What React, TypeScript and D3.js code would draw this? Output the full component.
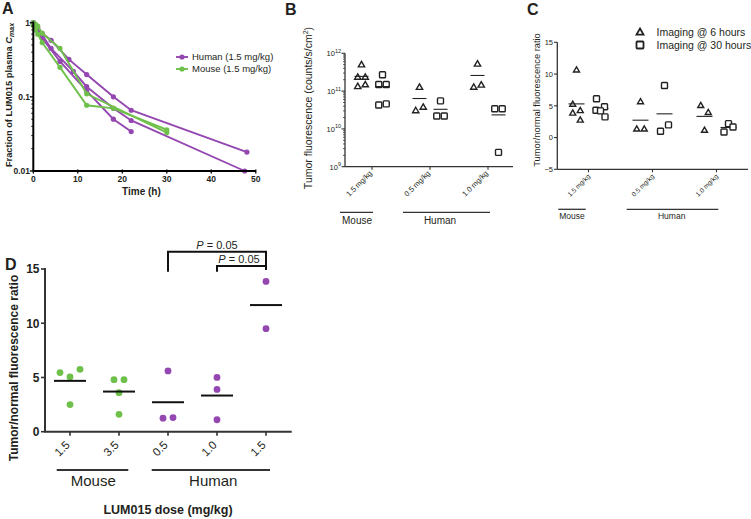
import React from "react";
import * as d3 from "d3";

const FONT = "Arial, 'Liberation Sans', Helvetica, sans-serif";
const PURPLE = "#9447b1";
const GREEN = "#6fc04b";
const INK = "#231f20";
const GREY = "#333333";

// ---------- Panel A : plasma PK ----------
const pkTicksX = [0, 10, 20, 30, 40, 50];
const pkTicksY = [1, 0.1, 0.01];
const pkTickLabelsY = ["1", "0.1", "0.01"];
const humanPK1: number[][] = [[0, 1], [1, 0.85], [2, 0.72], [4, 0.58], [8, 0.32], [12, 0.2], [18, 0.1], [22, 0.066], [48, 0.018]];
const humanPK2: number[][] = [[0, 1], [1, 0.8], [2, 0.68], [4, 0.45], [9, 0.22], [12, 0.137], [18, 0.07], [22, 0.048], [47.5, 0.01]];
const humanPK3: number[][] = [[0, 0.95], [1, 0.78], [2, 0.62], [6, 0.3], [12, 0.12], [18, 0.05], [22, 0.034]];
const mousePK1: number[][] = [[0, 1], [0.5, 0.95], [1, 0.9], [2, 0.72], [6, 0.45], [12, 0.11], [30, 0.033]];
const mousePK2: number[][] = [[0, 0.92], [0.5, 0.8], [1, 0.7], [2, 0.54], [6, 0.25], [12, 0.077], [18, 0.07], [30, 0.036]];
const humanPK = [humanPK1, humanPK2, humanPK3];
const mousePK = [mousePK1, mousePK2];

// ---------- Panel B : tumor fluorescence ----------
const bCategories = ["1.5 mg/kg", "0.5 mg/kg", "1.0 mg/kg"];
const b6h: number[][] = [
  [4.9e11, 2.3e11, 2.3e11, 1.3e11, 1.45e11],
  [1.24e11, 3.0e10, 3.7e10],
  [5.1e11, 1.25e11, 1.42e11],
];
const b30h: number[][] = [
  [2.7e11, 1.5e11, 1.5e11, 4.3e10, 4.6e10],
  [5.5e10, 2.2e10, 2.2e10],
  [3.4e10, 3.4e10, 2.4e9],
];
const bTicks = [1e12, 1e11, 1e10, 1e9];
const bTickExp = ["12", "11", "10", "9"];

// ---------- Panel C : tumor/normal ratio by imaging time ----------
const cCategories = ["1.5 mg/kg", "0.5 mg/kg", "1.0 mg/kg"];
const c6h: number[][] = [
  [10.6, 5.2, 4.2, 3.8, 2.7],
  [5.6, 1.3, 1.3],
  [5.0, 3.9, 1.1],
];
const c30h: number[][] = [
  [6.1, 4.3, 4.85, 4.2, 3.25],
  [8.2, 1.0, 2.0],
  [0.88, 2.2, 1.67],
];
const cTicks = [15, 10, 5, 0, -5];
const cLegend = ["Imaging @ 6 hours", "Imaging @ 30 hours"];

// ---------- Panel D : tumor/normal ratio by dose ----------
const dCategories = ["1.5", "3.5", "0.5", "1.0", "1.5"];
const dSpecies = ["mouse", "mouse", "human", "human", "human"];
const dValues: number[][] = [
  [5.45, 5.05, 5.75, 2.5],
  [4.8, 4.8, 3.6, 1.6],
  [5.6, 1.25, 1.3],
  [5.0, 3.9, 1.1],
  [13.85, 9.5],
];
const dTicks = [0, 5, 10, 15];
const pLabel = "0.05";

type Pt = { v: number; i: number; x: number; y: number };
function rowLayout(values: number[], y: (v: number) => number, cx: number, T: number, spacing: (n: number) => number): Pt[] {
  const pts: Pt[] = values.map((v, i) => ({ v, i, x: cx, y: y(v) }));
  const sorted = [...pts].sort((a, b) => a.y - b.y);
  const groups: Pt[][] = [];
  for (const p of sorted) {
    const g = groups[groups.length - 1];
    if (g && p.y - g[0].y < T) g.push(p);
    else groups.push([p]);
  }
  for (const g of groups) {
    g.sort((a, b) => a.i - b.i);
    const s = spacing(g.length);
    g.forEach((p, k) => (p.x = cx + (k - (g.length - 1) / 2) * s));
  }
  return pts;
}

function tri(x: number, y: number, a: number) {
  const h = a / Math.sqrt(3);
  return `M${x},${y - h}L${x + a / 2},${y + h / 2}L${x - a / 2},${y + h / 2}Z`;
}

function minorLogTicks(lo: number, hi: number) {
  const out: number[] = [];
  for (let e = Math.round(Math.log10(lo)); e < Math.round(Math.log10(hi)); e++) {
    for (let m = 2; m <= 9; m++) out.push(m * Math.pow(10, e));
  }
  return out;
}

function PanelA() {
  const x = d3.scaleLinear().domain([0, 50]).range([33.3, 255.8]);
  const y = d3.scaleLog().domain([0.01, 1]).range([171, 22.7]);
  const line = d3.line<number[]>().x((d) => x(d[0])).y((d) => y(d[1]));
  const series = [
    ...humanPK.map((s) => ({ s, c: PURPLE })),
    ...mousePK.map((s) => ({ s, c: GREEN })),
  ];
  return (
    <g fontFamily={FONT}>
      <text x={2} y={14} fontSize={16} fontWeight="bold" fill={INK}>A</text>
      {series.map((d, k) => (
        <g key={k}>
          <path d={line(d.s) || ""} fill="none" stroke={d.c} strokeWidth={1.9} />
          {d.s.map((p, j) => (
            <circle key={j} cx={x(p[0])} cy={y(p[1])} r={2.6} fill={d.c} />
          ))}
        </g>
      ))}
      <line x1={x(0)} x2={x(0)} y1={21.5} y2={y(0.01)} stroke="#000" strokeWidth={2} />
      <line x1={x(0)} x2={x(50)} y1={y(0.01)} y2={y(0.01)} stroke="#000" strokeWidth={2} />
      {minorLogTicks(0.01, 1).map((t) => (
        <line key={t} x1={x(0) - 2} x2={x(0)} y1={y(t)} y2={y(t)} stroke="#000" strokeWidth={1} />
      ))}
      {pkTicksY.map((t, k) => (
        <g key={t}>
          <line x1={x(0) - 3.5} x2={x(0)} y1={y(t)} y2={y(t)} stroke="#000" strokeWidth={1.3} />
          <text x={30} y={y(t) + 3} textAnchor="end" fontSize={8.5} fontWeight="bold" fill={INK}>{pkTickLabelsY[k]}</text>
        </g>
      ))}
      {pkTicksX.map((t) => (
        <g key={t}>
          <line x1={x(t)} x2={x(t)} y1={y(0.01) - 1.5} y2={y(0.01) + 2.5} stroke="#000" strokeWidth={1.3} />
          <text x={x(t)} y={182} textAnchor="middle" fontSize={8.5} fontWeight="bold" fill={INK}>{t}</text>
        </g>
      ))}
      <text x={x(24.3)} y={195} textAnchor="middle" fontSize={10} fontWeight="bold" fill={INK}>Time (h)</text>
      <text transform={`translate(11.5,95) rotate(-90)`} textAnchor="middle" fontSize={9.3} fontWeight="bold" fill={INK}>
        Fraction of LUM015 plasma <tspan fontStyle="italic">C</tspan>
        <tspan fontStyle="italic" fontSize={7} dy={2}>max</tspan>
      </text>
      {[{ t: "Human (1.5 mg/kg)", c: PURPLE, yy: 57 }, { t: "Mouse (1.5 mg/kg)", c: GREEN, yy: 69 }].map((l) => (
        <g key={l.t}>
          <line x1={176} x2={188} y1={l.yy} y2={l.yy} stroke={l.c} strokeWidth={1.9} />
          <circle cx={182} cy={l.yy} r={2.6} fill={l.c} />
          <text x={192} y={l.yy + 3.3} fontSize={9.5} fill={INK}>{l.t}</text>
        </g>
      ))}
    </g>
  );
}

function PanelB() {
  const y = d3.scaleLog().domain([1e9, 1e12]).range([166.7, 53.3]);
  const x = d3.scalePoint<number>().domain([0, 1, 2]).range([372, 488]);
  const axY = y(1e9);
  const off = 10.5;
  return (
    <g fontFamily={FONT}>
      <text x={285} y={15} fontSize={16} fontWeight="bold" fill={INK}>B</text>
      <line x1={345} x2={345} y1={y(1e12)} y2={axY} stroke={GREY} strokeWidth={1.3} />
      <line x1={345} x2={513} y1={axY} y2={axY} stroke={GREY} strokeWidth={1.3} />
      {minorLogTicks(1e9, 1e12).map((t) => (
        <line key={t} x1={343} x2={345} y1={y(t)} y2={y(t)} stroke={GREY} strokeWidth={0.8} />
      ))}
      {bTicks.map((t, k) => (
        <g key={t}>
          <line x1={341.5} x2={345} y1={y(t)} y2={y(t)} stroke={GREY} strokeWidth={1.1} />
          <text x={341} y={y(t) + 3} textAnchor="end" fontSize={7.5} fill={INK}>
            10<tspan fontSize={5.5} dy={-3.5}>{bTickExp[k]}</tspan>
          </text>
        </g>
      ))}
      {bCategories.map((c, k) => (
        <g key={c}>
          <line x1={x(k)!} x2={x(k)!} y1={axY} y2={axY + 3} stroke={GREY} strokeWidth={1.1} />
          <text transform={`translate(${x(k)! + 0.5},${axY + 7}) rotate(-45)`} textAnchor="end" fontSize={7.5} fill={INK}>{c}</text>
        </g>
      ))}
      {b6h.map((vals, k) => {
        const cx = x(k)! - off;
        const pts = rowLayout(vals, y, cx, 6, () => 7.5);
        const m = y(d3.mean(vals)!);
        return (
          <g key={"t" + k}>
            {pts.map((p, j) => (
              <path key={j} d={tri(p.x, p.y, 6.3)} fill="#fff" stroke="#222" strokeWidth={1.4} />
            ))}
            <line x1={cx - 7} x2={cx + 7} y1={m} y2={m} stroke="#222" strokeWidth={1.1} />
          </g>
        );
      })}
      {b30h.map((vals, k) => {
        const cx = x(k)! + off;
        const pts = rowLayout(vals, y, cx, 6, () => 7.5);
        const m = y(d3.mean(vals)!);
        return (
          <g key={"s" + k}>
            {pts.map((p, j) => (
              <rect key={j} x={p.x - 3} y={p.y - 3} width={6} height={6} rx={0.8} fill="#fff" stroke="#222" strokeWidth={1.4} />
            ))}
            <line x1={cx - 7} x2={cx + 7} y1={m} y2={m} stroke="#222" strokeWidth={1.1} />
          </g>
        );
      })}
      <line x1={340} x2={373} y1={212.3} y2={212.3} stroke={GREY} strokeWidth={1.3} />
      <line x1={403} x2={490} y1={212.3} y2={212.3} stroke={GREY} strokeWidth={1.3} />
      <text x={357} y={224} textAnchor="middle" fontSize={10} fill={INK}>Mouse</text>
      <text x={440} y={224} textAnchor="middle" fontSize={10} fill={INK}>Human</text>
      <text transform={`translate(311.5,108) rotate(-90)`} textAnchor="middle" fontSize={10.5} fill={INK}>
        Tumor fluorescence (counts/s/cm<tspan fontSize={7} dy={-4}>2</tspan><tspan dy={4}>)</tspan>
      </text>
    </g>
  );
}

function PanelC() {
  const y = d3.scaleLinear().domain([-5, 15]).range([169.3, 42.3]);
  const x = d3.scalePoint<number>().domain([0, 1, 2]).range([588.5, 716.5]);
  const axY = y(-5);
  const off = 12;
  return (
    <g fontFamily={FONT}>
      <text x={527} y={15} fontSize={16} fontWeight="bold" fill={INK}>C</text>
      <line x1={557.3} x2={557.3} y1={y(15)} y2={axY} stroke={GREY} strokeWidth={1.3} />
      <line x1={557.3} x2={748} y1={axY} y2={axY} stroke={GREY} strokeWidth={1.3} />
      {cTicks.map((t) => (
        <g key={t}>
          <line x1={554} x2={557.3} y1={y(t)} y2={y(t)} stroke={GREY} strokeWidth={1.1} />
          <text x={553} y={y(t) + 2.7} textAnchor="end" fontSize={7.5} fill={INK}>{t < 0 ? "\u2212" + Math.abs(t) : t}</text>
        </g>
      ))}
      {cCategories.map((c, k) => (
        <g key={c}>
          <line x1={x(k)!} x2={x(k)!} y1={axY} y2={axY + 3} stroke={GREY} strokeWidth={1.1} />
          <text transform={`translate(${x(k)! + 2},${axY + 7.5}) rotate(-45)`} textAnchor="end" fontSize={6.5} fill={INK}>{c}</text>
        </g>
      ))}
      {c6h.map((vals, k) => {
        const cx = x(k)! - off;
        const pts = rowLayout(vals, y, cx, 8.5, (n) => (n > 2 ? 4.5 : 7.5));
        const m = y(d3.mean(vals)!);
        return (
          <g key={"t" + k}>
            {pts.map((p, j) => (
              <path key={j} d={tri(p.x, p.y, 6)} fill="#fff" stroke="#222" strokeWidth={1.4} />
            ))}
            <line x1={cx - 8} x2={cx + 8} y1={m} y2={m} stroke="#222" strokeWidth={1.1} />
          </g>
        );
      })}
      {c30h.map((vals, k) => {
        const cx = x(k)! + off;
        const pts = rowLayout(vals, y, cx, 8.5, (n) => (n > 2 ? 4.5 : 8));
        const m = y(d3.mean(vals)!);
        return (
          <g key={"s" + k}>
            <line x1={cx - 8} x2={cx + 8} y1={m} y2={m} stroke="#222" strokeWidth={1.1} />
            {pts.map((p, j) => (
              <rect key={j} x={p.x - 3} y={p.y - 3} width={6} height={6} rx={0.8} fill="#fff" stroke="#222" strokeWidth={1.4} />
            ))}
          </g>
        );
      })}
      <path d={tri(640, 32.6, 7)} fill="#fff" stroke="#222" strokeWidth={1.8} />
      <rect x={636.5} y={41.5} width={7} height={7} rx={0.8} fill="#fff" stroke="#222" strokeWidth={1.8} />
      <text x={656.5} y={36} fontSize={10.5} fill={INK}>{cLegend[0]}</text>
      <text x={656.5} y={49} fontSize={10.5} fill={INK}>{cLegend[1]}</text>
      <line x1={558.3} x2={585.7} y1={209.3} y2={209.3} stroke={GREY} strokeWidth={1.3} />
      <line x1={626.7} x2={718.3} y1={209.3} y2={209.3} stroke={GREY} strokeWidth={1.3} />
      <text x={572} y={219} textAnchor="middle" fontSize={8.5} fill={INK}>Mouse</text>
      <text x={671.7} y={219} textAnchor="middle" fontSize={8.5} fill={INK}>Human</text>
      <text transform={`translate(539.5,100) rotate(-90)`} textAnchor="middle" fontSize={9.3} fill={INK}>Tumor/normal fluorescence ratio</text>
    </g>
  );
}

function PanelD() {
  const y = d3.scaleLinear().domain([0, 15]).range([431.7, 269]);
  const x = d3.scalePoint<number>().domain([0, 1, 2, 3, 4]).range([70, 266]);
  const axY = y(0);
  return (
    <g fontFamily={FONT}>
      <text x={5} y={270} fontSize={16} fontWeight="bold" fill={INK}>D</text>
      <line x1={45} x2={45} y1={y(15) - 1} y2={axY} stroke={GREY} strokeWidth={2} />
      <line x1={44} x2={291.7} y1={axY} y2={axY} stroke={GREY} strokeWidth={2} />
      {dTicks.map((t) => (
        <g key={t}>
          <line x1={41} x2={45} y1={y(t)} y2={y(t)} stroke={GREY} strokeWidth={1.6} />
          <text x={39.5} y={y(t) + 4.3} textAnchor="end" fontSize={12} fontWeight="bold" fill={INK}>{t}</text>
        </g>
      ))}
      {dCategories.map((c, k) => (
        <g key={k}>
          <line x1={x(k)!} x2={x(k)!} y1={axY} y2={axY + 4} stroke={GREY} strokeWidth={1.6} />
          <text transform={`translate(${x(k)! + 0.5},${axY + 14}) rotate(-45)`} textAnchor="end" fontSize={11.5} fill={INK}>{c}</text>
        </g>
      ))}
      {dValues.map((vals, k) => {
        const cx = x(k)!;
        const col = dSpecies[k] === "mouse" ? GREEN : PURPLE;
        const pts = rowLayout(vals, y, cx, 8, () => 10);
        const m = y(d3.mean(vals)!);
        return (
          <g key={k}>
            {pts.map((p, j) => (
              <circle key={j} cx={p.x} cy={p.y} r={3.4} fill={col} />
            ))}
            <line x1={cx - 16} x2={cx + 16} y1={m} y2={m} stroke="#111" strokeWidth={2} />
          </g>
        );
      })}
      <path d={`M${x(2)},271.7V251.7H${x(4)}V265`} fill="none" stroke="#111" strokeWidth={2} />
      <path d={`M${x(3)},271.7V266H${x(4)}V270`} fill="none" stroke="#111" strokeWidth={2} />
      <text x={(x(2)! + x(4)!) / 2} y={249.3} textAnchor="middle" fontSize={11} fill={INK}>
        <tspan fontStyle="italic">P</tspan> = {pLabel}
      </text>
      <text x={(x(3)! + x(4)!) / 2 - 2.5} y={263.3} textAnchor="middle" fontSize={11} fill={INK}>
        <tspan fontStyle="italic">P</tspan> = {pLabel}
      </text>
      <line x1={56.7} x2={128.3} y1={470} y2={470} stroke={GREY} strokeWidth={2} />
      <line x1={151.7} x2={270} y1={470} y2={470} stroke={GREY} strokeWidth={2} />
      <text x={93.3} y={486} textAnchor="middle" fontSize={15} fill={INK}>Mouse</text>
      <text x={213.3} y={486} textAnchor="middle" fontSize={15} fill={INK}>Human</text>
      <text x={168} y={514} textAnchor="middle" fontSize={12.5} fontWeight="bold" fill={INK}>LUM015 dose (mg/kg)</text>
      <text transform={`translate(17.5,368) rotate(-90)`} textAnchor="middle" fontSize={12} fontWeight="bold" fill={INK}>Tumor/normal fluorescence ratio</text>
    </g>
  );
}

export default function App() {
  return (
    <svg
      width={751}
      height={519}
      viewBox="0 0 751 519"
      style={{ position: "absolute", left: 0, top: 0, background: "#fff", display: "block" }}
    >
      <rect width={751} height={519} fill="#fff" />
      <PanelA />
      <PanelB />
      <PanelC />
      <PanelD />
    </svg>
  );
}
